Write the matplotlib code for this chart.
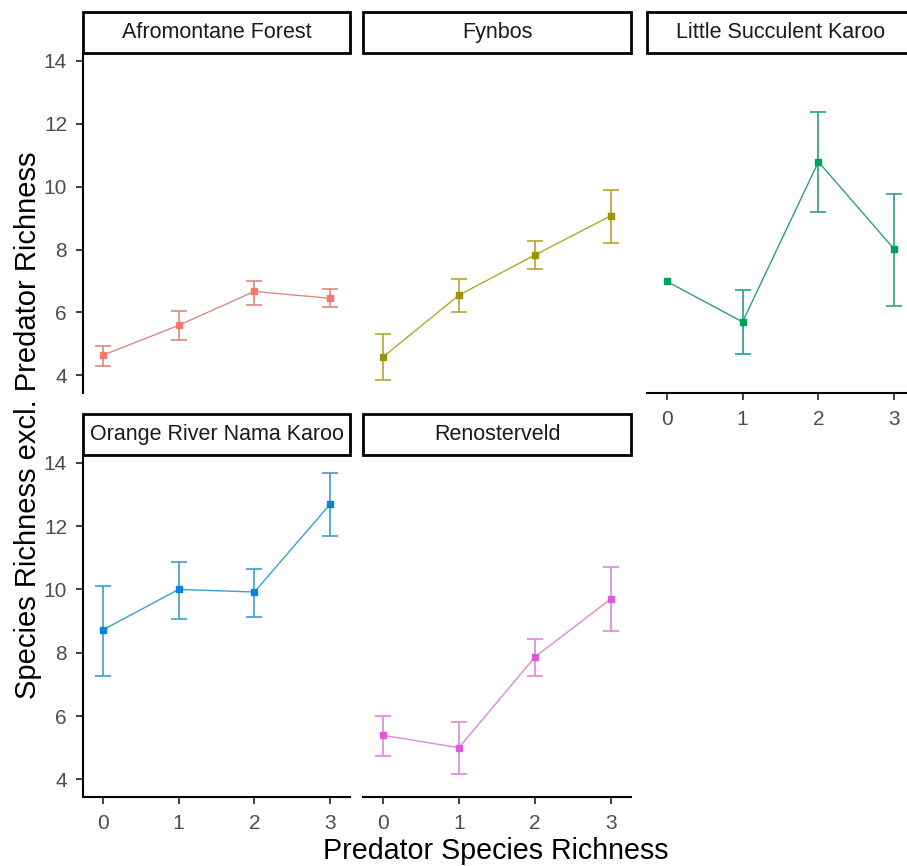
import numpy as np
import matplotlib
matplotlib.use("Agg")
import matplotlib.pyplot as plt
from matplotlib.patches import Rectangle

plt.rcParams['font.family'] = ['Liberation Sans', 'DejaVu Sans']

# ---- data ----
x_vals = [0, 1, 2, 3]
x_ticklabels = ["0", "1", "2", "3"]
y_ticks = [4, 6, 8, 10, 12, 14]

habitats = ["Afromontane Forest", "Fynbos", "Little Succulent Karoo",
            "Orange River Nama Karoo", "Renosterveld"]

afro_mean = [4.64, 5.59, 6.67, 6.45]
afro_lo = [4.30, 5.12, 6.24, 6.16]
afro_hi = [4.93, 6.06, 6.99, 6.75]

fyn_mean = [4.58, 6.55, 7.83, 9.08]
fyn_lo = [3.84, 6.03, 7.37, 8.21]
fyn_hi = [5.30, 7.07, 8.28, 9.90]

lsk_mean = [6.99, 5.70, 10.79, 8.01]
lsk_lo = [np.nan, 4.67, 9.18, 6.22]
lsk_hi = [np.nan, 6.73, 12.39, 9.78]

orn_mean = [8.72, 10.00, 9.92, 12.70]
orn_lo = [7.27, 9.07, 9.13, 11.69]
orn_hi = [10.10, 10.86, 10.66, 13.68]

ren_mean = [5.39, 5.00, 7.87, 9.71]
ren_lo = [4.75, 4.16, 7.27, 8.69]
ren_hi = [5.99, 5.81, 8.43, 10.71]

means = [afro_mean, fyn_mean, lsk_mean, orn_mean, ren_mean]
los = [afro_lo, fyn_lo, lsk_lo, orn_lo, ren_lo]
his = [afro_hi, fyn_hi, lsk_hi, orn_hi, ren_hi]

marker_colors = ["#F8766D", "#9E9300", "#00A05A", "#0A84D8", "#DA5ADA"]
line_colors = ["#D98A82", "#B3A62E", "#2A9D8F", "#3BA0CC", "#D98AD9"]

# ---- layout (pixels) ----
W, H = 907, 866
DPI = 100
fig = plt.figure(figsize=(W / DPI, H / DPI), dpi=DPI)

col_x = [(83, 350), (363, 631), (647, 914)]
row_y = [(53, 393), (455, 797)]
strip_h = 41

def px_rect(x0, x1, y0, y1):
    return [x0 / W, 1 - y1 / H, (x1 - x0) / W, (y1 - y0) / H]

positions = [(0, 0), (0, 1), (0, 2), (1, 0), (1, 1)]

for i, name in enumerate(habitats):
    r, c = positions[i]
    x0, x1 = col_x[c]
    y0, y1 = row_y[r]
    ax = fig.add_axes(px_rect(x0, x1, y0, y1))
    ax.set_xlim(-0.26, 3.26)
    ax.set_ylim(3.44, 14.25)
    for s in ["top", "right"]:
        ax.spines[s].set_visible(False)
    show_left = (c == 0)
    show_bottom = (r == 1) or (c == 2)
    ax.spines["left"].set_visible(show_left)
    ax.spines["bottom"].set_visible(show_bottom)
    for s in ["left", "bottom"]:
        ax.spines[s].set_linewidth(1.5)
        ax.spines[s].set_color("black")
    ax.set_yticks(y_ticks)
    ax.set_xticks(x_vals)
    ax.set_xticklabels(x_ticklabels)
    ax.tick_params(axis="both", direction="out", length=5, width=1.3,
                   color="#333333", labelsize=15, labelcolor="#4D4D4D")
    ax.tick_params(axis="x", pad=7)
    ax.tick_params(axis="y", pad=6.5)
    if not show_left:
        ax.tick_params(axis="y", left=False, labelleft=False)
    if not show_bottom:
        ax.tick_params(axis="x", bottom=False, labelbottom=False)
    ax.patch.set_alpha(0)

    m = np.array(means[i], dtype=float)
    lo = np.array(los[i], dtype=float)
    hi = np.array(his[i], dtype=float)
    xv = np.array(x_vals, dtype=float)
    ax.plot(xv, m, color=line_colors[i], lw=1.0, zorder=2)
    ok = np.isfinite(lo) & np.isfinite(hi)
    ax.errorbar(xv[ok], m[ok], yerr=[m[ok] - lo[ok], hi[ok] - m[ok]],
                fmt="none", ecolor=line_colors[i], elinewidth=1.2,
                capsize=6, capthick=1.2, zorder=3)
    ax.plot(xv, m, linestyle="none", marker="s", markersize=5,
            color=marker_colors[i], zorder=4)

    # strip
    fig.patches.append(Rectangle(((x0) / W, 1 - (y0) / H),
                                 (x1 - x0) / W, strip_h / H,
                                 transform=fig.transFigure, facecolor="white",
                                 edgecolor="black", linewidth=2.0, zorder=5))
    fig.text((x0 + x1) / 2 / W, 1 - (y0 - strip_h / 2) / H, name,
             ha="center", va="center", fontsize=15.5, color="#1A1A1A", zorder=6)

fig.text(496 / W, 1 - 851 / H, "Predator Species Richness",
         ha="center", va="center", fontsize=20.6, color="black")
fig.text(28 / W, 1 - 425 / H, "Species Richness excl. Predator Richness",
         ha="center", va="center", rotation=90, fontsize=21, color="black")

fig.savefig("out.png", dpi=DPI)
